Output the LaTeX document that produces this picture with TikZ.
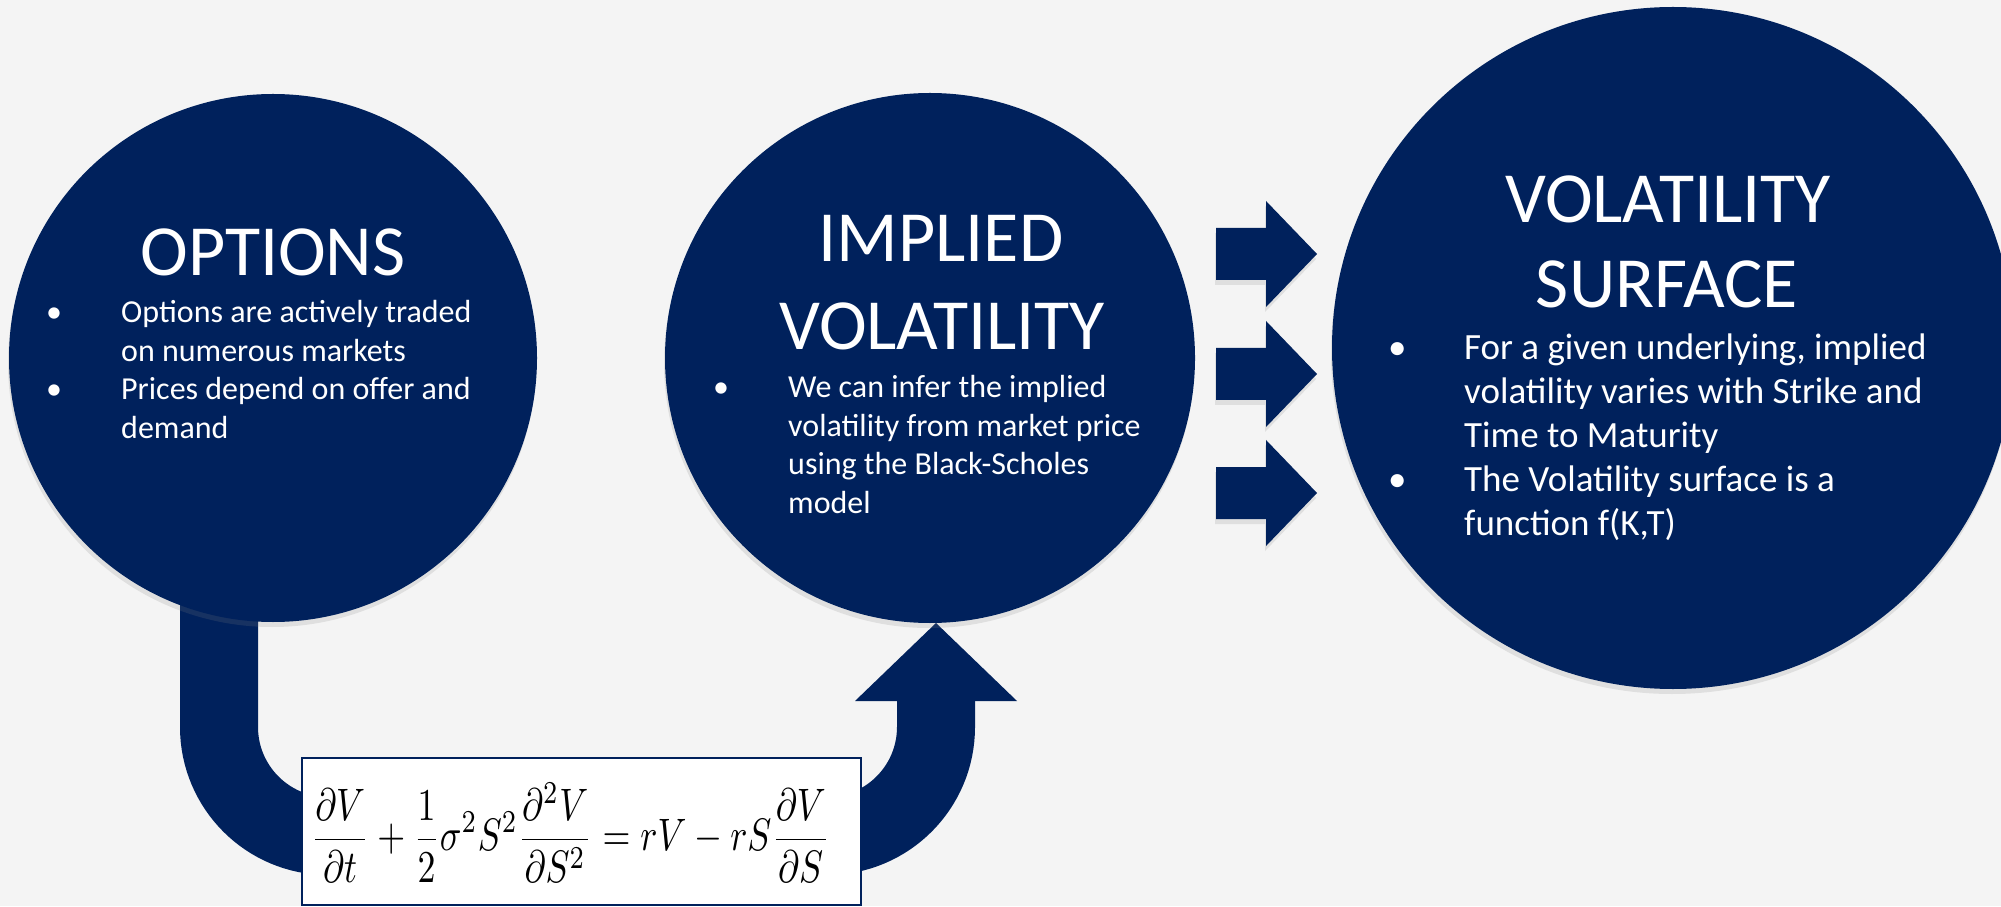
\documentclass[tikz,border=0pt]{standalone}
\usepackage{fontspec}
\setmainfont{Carlito}
\usepackage{amsmath}
\usepackage{graphicx}
\usetikzlibrary{calc,shadows}
\definecolor{navy}{RGB}{0,33,92}
\definecolor{paper}{RGB}{244,244,244}
\newcommand{\bul}{\makebox[0pt]{\textbullet}}

\begin{document}
\begin{tikzpicture}[x=1pt,y=1pt,
  shade/.style={drop shadow={shadow xshift=-1pt,shadow yshift=-5pt,opacity=0.18}},
  bubble/.style={circle,fill=navy,inner sep=0pt,shade},
  head/.style={text=white,inner sep=0pt,anchor=base,font=\fontsize{72}{87}\selectfont},
  body/.style={text=white,inner sep=0pt,anchor=base west,font=\fontsize{32}{38.5}\selectfont},
  band/.style={draw=navy,line width=78pt,rounded corners=109pt}]
\fill[paper] (0,0) rectangle (2001,906);
\useasboundingbox (0,0) rectangle (2001,906);

\coordinate (optc) at (273,548);
\coordinate (impc) at (930,548);
\coordinate (surfc) at (1673,558);
\coordinate (ubot) at (578,70);
\coordinate (tip) at (936,283);
\coordinate (hb) at (936,205);

\draw[band] ([xshift=-54pt]optc) |- (ubot) -| (hb);
\fill[navy] (tip) -- ([xshift=-81pt]hb) -- ([xshift=81pt]hb) -- cycle;

\node[bubble,minimum size=528pt] (opt) at (optc) {};
\node[bubble,minimum size=530pt] (imp) at (impc) {};
\node[bubble,minimum size=682pt] (surf) at (surfc) {};

\foreach \t in {652,532,413}
  \fill[navy,shade] (1216,\t+26) -- (1266,\t+26) -- (1266,\t+53) -- (1317,\t)
    -- (1266,\t-53) -- (1266,\t-26) -- (1216,\t-26) -- cycle;

\node[draw=navy,line width=1.5pt,fill=white,minimum width=559pt,minimum height=147pt,inner sep=0pt] (bsbox) at (581.5,74.5) {};
\node[inner sep=0pt] (bseq) at (570.5,73.5) {\resizebox*{519pt}{99pt}{$\displaystyle
  \frac{\partial V}{\partial t}+\frac{1}{2}\sigma^2S^2\frac{\partial^2V}{\partial S^2}=rV-rS\frac{\partial V}{\partial S}$}};

\node[head] (optT) at (273,630) {OPTIONS};
\node[head] (impT) at (941,644) {IMPLIED};
\node[head] (impV) at (942,556) {VOLATILITY};
\node[head] (surfV) at (1668,683) {VOLATILITY};
\node[head] (surfS) at (1667,598) {SURFACE};

\node[body] (optB) at (54,583) {\begin{tabular}[t]{@{}c@{\hspace{67pt}}l@{}}
  \bul & Options are actively traded\\
       & on numerous markets\\
  \bul & Prices depend on offer and\\
       & demand
\end{tabular}};
\node[body] (impB) at (721,508) {\begin{tabular}[t]{@{}c@{\hspace{67pt}}l@{}}
  \bul & We can infer the implied\\
       & volatility from market price\\
       & using the Black-Scholes\\
       & model
\end{tabular}};
\node[body,font=\fontsize{37}{44}\selectfont] (surfB) at (1397,546) {\begin{tabular}[t]{@{}c@{\hspace{67pt}}l@{}}
  \bul & For a given underlying, implied\\
       & volatility varies with Strike and\\
       & Time to Maturity\\
  \bul & The Volatility surface is a\\
       & function f(K,T)
\end{tabular}};
\end{tikzpicture}
\end{document}
